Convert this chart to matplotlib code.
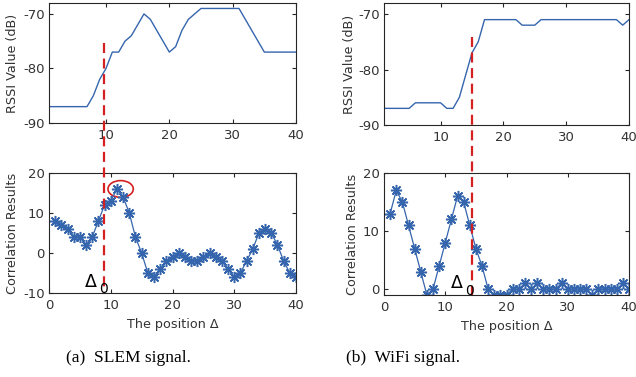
import numpy as np
import matplotlib
matplotlib.use("Agg")
import matplotlib.pyplot as plt
from matplotlib.patches import Ellipse
from matplotlib.lines import Line2D

plt.rcParams["font.family"] = ["DejaVu Sans"]
plt.rcParams["axes.unicode_minus"] = False

# ---------------- data ----------------
pos = np.arange(1, 41)

slem_rssi = [-87, -87, -87, -87, -87, -87, -87, -85, -82, -80,
             -77, -77, -75, -74, -72, -70, -71, -73, -75, -77,
             -76, -73, -71, -70, -69, -69, -69, -69, -69, -69,
             -69, -71, -73, -75, -77, -77, -77, -77, -77, -77]
slem_corr = [8, 7, 6, 4, 4, 2, 4, 8, 12, 13,
             16, 14, 10, 4, 0, -5, -6, -4, -2, -1,
             0, -1, -2, -2, -1, 0, -1, -2, -4, -6,
             -5, -2, 1, 5, 6, 5, 2, -2, -5, -6]

wifi_rssi = [-87, -87, -87, -87, -87, -86, -86, -86, -86, -86,
             -87, -87, -85, -81, -77, -75, -71, -71, -71, -71,
             -71, -71, -72, -72, -72, -71, -71, -71, -71, -71,
             -71, -71, -71, -71, -71, -71, -71, -71, -72, -71]
wifi_corr = [13, 17, 15, 11, 7, 3, -1, 0, 4, 8,
             12, 16, 15, 11, 7, 4, 0, -1, -1, -1,
             0, 0, 1, 0, 1, 0, 0, 0, 1, 0,
             0, 0, 0, -1, 0, 0, 0, 0, 1, 0]

BLUE = "#3565ad"
RED = "#d42020"
AXC = "0.15"
TXT = "0.2"

W, H = 636, 377
fig = plt.figure(figsize=(W / 100, H / 100), dpi=100)


def px_rect(x0, x1, top, bottom):
    return [x0 / W, 1 - bottom / H, (x1 - x0) / W, (bottom - top) / H]


def style(ax):
    for s in ax.spines.values():
        s.set_color(AXC)
        s.set_linewidth(0.8)
    ax.tick_params(direction="in", top=True, right=True, length=3,
                   labelsize=9.5, colors=AXC, labelcolor=TXT, pad=3)
    ax.tick_params(axis="x", pad=4.5)


def rssi_axes(rect, data, labx):
    ax = fig.add_axes(rect)
    ax.plot(pos, data, color=BLUE, lw=1.0)
    ax.set_xlim(1, 40)
    ax.set_ylim(-90, -68)
    ax.set_xticks([10, 20, 30, 40])
    ax.set_yticks([-90, -80, -70])
    ax.set_ylabel("RSSI Value (dB)", fontsize=9.2, color=TXT)
    ax.yaxis.set_label_coords(labx, 0.5)
    style(ax)
    return ax


def corr_axes(rect, data, ylim, labx):
    ax = fig.add_axes(rect)
    ax.plot(pos, data, color=BLUE, lw=0.9, marker=(8, 2, 0), ms=8,
            mew=1.1, mec=BLUE)
    ax.set_xlim(0, 40)
    ax.set_ylim(*ylim)
    ax.set_xticks([0, 10, 20, 30, 40])
    ax.set_yticks([-10, 0, 10, 20] if ylim[0] < -5 else [0, 10, 20])
    ax.set_ylabel("Correlation Results", fontsize=9.2, color=TXT)
    ax.set_xlabel("The position Δ", fontsize=9.2, color=TXT, labelpad=4)
    ax.yaxis.set_label_coords(labx, 0.5)
    style(ax)
    return ax


ax1 = rssi_axes(px_rect(49, 296, 3, 123), slem_rssi, -0.121)
ax2 = corr_axes(px_rect(49, 296, 173, 293), slem_corr, (-10, 20), -0.121)
ax3 = rssi_axes(px_rect(384, 629, 3, 125), wifi_rssi, -0.114)
ax4 = corr_axes(px_rect(384, 629, 173, 295), wifi_corr, (-1, 20), -0.102)

# circled peak on the SLEM correlation
ax2.add_patch(Ellipse((11.6, 16), 4.1, 4.2, fill=False, ec=RED, lw=1.2))

# red dashed guide lines across both panels (figure coords)
for x, y0, y1 in [(104.3, 43, 293), (471.7, 37, 295)]:
    fig.add_artist(Line2D([x / W, x / W], [1 - y0 / H, 1 - y1 / H],
                          color=RED, lw=1.6, dashes=(4.5, 2.5)))

# Delta_0 labels
for xd, yd, x0, y0 in [(91, 282, 103, 289), (457, 283, 469, 291)]:
    fig.text(xd / W, 1 - yd / H, "Δ", fontsize=12.5, ha="center", va="center")
    fig.text(x0 / W, 1 - y0 / H, "0", fontsize=10, ha="center", va="center")

# captions
cap = dict(fontsize=12.5, family="Liberation Serif", ha="center", va="center")
fig.text(128 / W, 1 - 358 / H, "(a)  SLEM signal.", **cap)
fig.text(403 / W, 1 - 358 / H, "(b)  WiFi signal.", **cap)

fig.savefig("out.png", dpi=100)
